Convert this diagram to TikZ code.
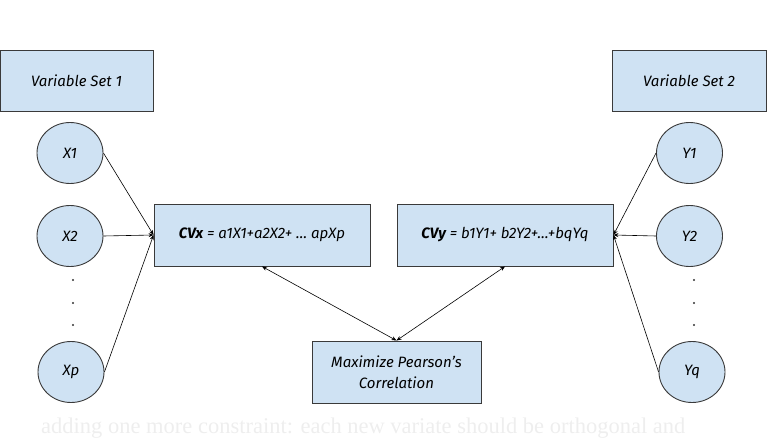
\documentclass[tikz,border=0pt]{standalone}
\usepackage{fontspec}
\setmainfont{Fira Sans}
\newfontfamily\pagefont{Liberation Serif}
\usetikzlibrary{arrows.meta, positioning, shapes.geometric}
\definecolor{boxblue}{HTML}{CFE2F3}
\definecolor{edgegray}{HTML}{3A3A3A}
\definecolor{fadegray}{HTML}{EEEEEE}
\tikzset{
  box/.style={draw=edgegray, fill=boxblue, line width=0.9pt, inner sep=2pt,
    align=center, font=\itshape\fontsize{15}{21}\selectfont},
  var/.style={ellipse, draw=edgegray, fill=boxblue, line width=0.9pt,
    minimum width=66pt, minimum height=61pt, inner sep=0pt,
    font=\itshape\fontsize{15}{18}\selectfont},
  link/.style={-{Stealth[length=5pt,width=4pt]}, line width=0.6pt},
  dot/.style={circle, fill=black!80, inner sep=0pt, minimum size=2.4pt}
}
\begin{document}
\begin{tikzpicture}[x=1pt,y=-1pt]
  \useasboundingbox (0,0) rectangle (779,439);

  % Variable sets
  \node[box, minimum width=153pt, minimum height=61pt] (vs1) at (76.5,80.5) {Variable Set 1};
  \node[box, minimum width=154pt, minimum height=61pt] (vs2) at (689,80.5) {Variable Set 2};

  % Variables X
  \node[var] (x1) at (70,153) {X1};
  \node[var] (x2) at (70,236) {X2};
  \node[var] (xp) at (71,372) {Xp};
  \foreach \yy in {280,303,325}
    \node[dot] at (73,\yy) {};

  % Variables Y
  \node[var] (y1) at (689.5,153) {Y1};
  \node[var] (y2) at (689.5,236) {Y2};
  \node[var] (yq) at (692,372) {Yq};
  \foreach \yy in {280,303,325}
    \node[dot] at (694,\yy) {};

  % Canonical variates
  \node[box, minimum width=216pt, minimum height=62pt] (cvx) at (262,235)
    {\textbf{CVx} = a1X1+a2X2+ \dots\ apXp};
  \node[box, minimum width=216pt, minimum height=62pt] (cvy) at (505,235)
    {\textbf{CVy} = b1Y1+ b2Y2+\dots+bqYq};

  % Objective
  \node[box, minimum width=169pt, minimum height=62pt] (corr) at (396.5,372)
    {Maximize Pearson's\\Correlation};

  % Arrows
  \draw[link] (x1.east) -- (cvx.west);
  \draw[link] (x2.east) -- (cvx.west);
  \draw[link] (xp.east) -- (cvx.west);
  \draw[link] (y1.west) -- (cvy.east);
  \draw[link] (y2.west) -- (cvy.east);
  \draw[link] (yq.west) -- (cvy.east);
  \draw[link, {Stealth[length=5pt,width=4pt]}-{Stealth[length=5pt,width=4pt]}] (corr.north) -- (cvx.south);
  \draw[link, {Stealth[length=5pt,width=4pt]}-{Stealth[length=5pt,width=4pt]}] (corr.north) -- (cvy.south);

  % Faint page text
  \node[anchor=base west, inner sep=0pt, text=fadegray, font=\pagefont\fontsize{22.5}{26}\selectfont]
    (note) at (41,433) {adding one more constraint: each new variate should be orthogonal and};
\end{tikzpicture}
\end{document}
